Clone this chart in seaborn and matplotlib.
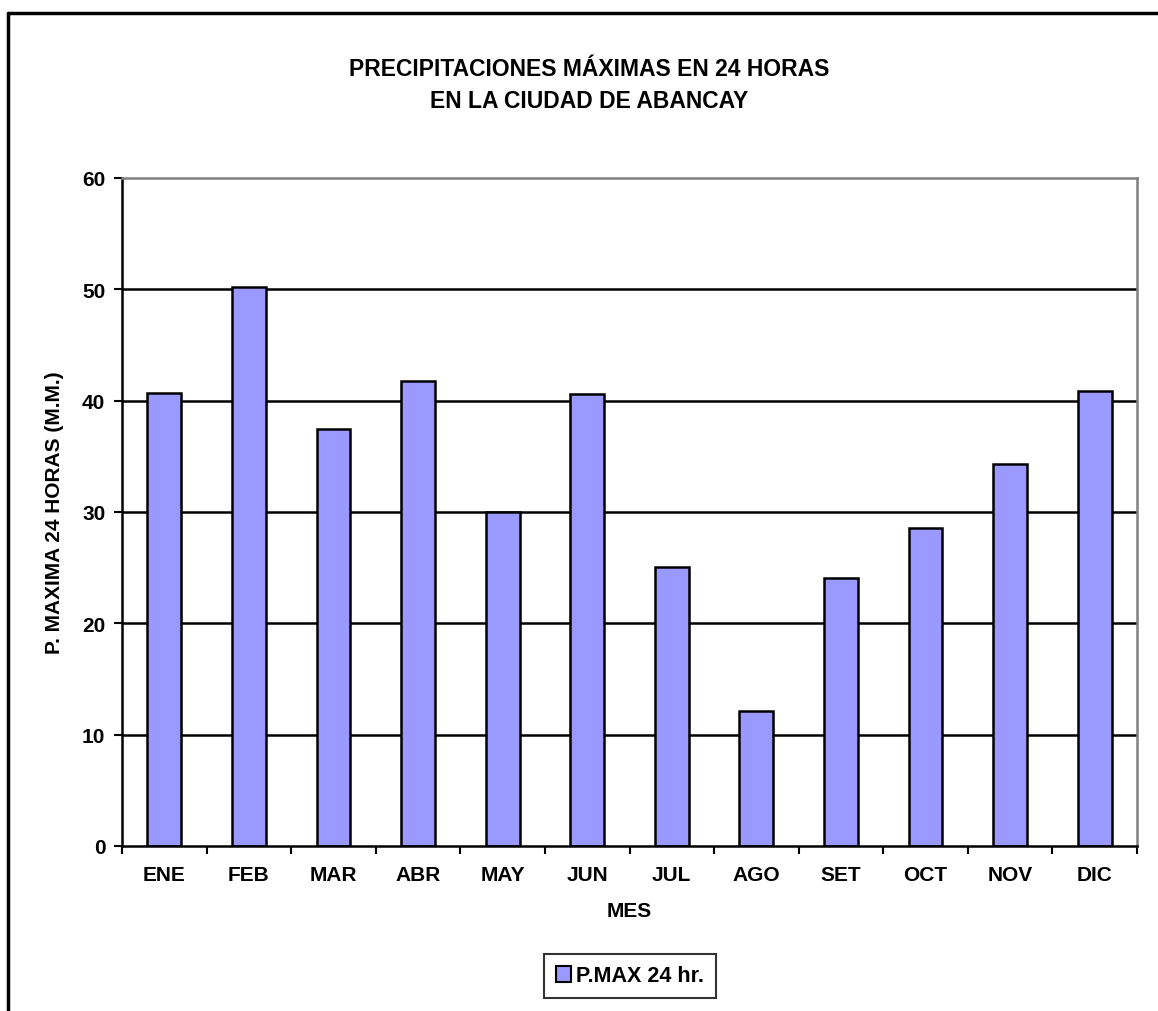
import numpy as np
import pandas as pd
import seaborn as sns
import matplotlib.pyplot as plt
from matplotlib.lines import Line2D
from matplotlib.patches import Patch

meses = ["ENE", "FEB", "MAR", "ABR", "MAY", "JUN", "JUL", "AGO", "SET", "OCT", "NOV", "DIC"]
pmax_24h = [40.7, 50.2, 37.5, 41.8, 30.0, 40.6, 25.1, 12.1, 24.1, 28.6, 34.3, 40.9]
y_ticks = [0, 10, 20, 30, 40, 50, 60]

sns.set_style("white")
plt.rcParams["font.family"] = ["Liberation Sans", "DejaVu Sans"]
plt.rcParams["font.weight"] = "bold"
for k in ["text.color", "axes.labelcolor", "xtick.color", "ytick.color"]:
    plt.rcParams[k] = "black"

df = pd.DataFrame({"mes": meses, "pmax": pmax_24h})

fig = plt.figure(figsize=(11.58, 10.12), dpi=100)
ax = fig.add_axes([122 / 1158, 165 / 1012, (1137 - 122) / 1158, (847 - 179) / 1012])

# gridlines first so bars sit on top
for v in y_ticks[1:-1]:
    ax.axhline(v, color="black", linewidth=1.8, zorder=0)

sns.barplot(data=df, x="mes", y="pmax", color="#9999FF", saturation=1,
            width=0.4, edgecolor="black", linewidth=1.8, ax=ax, zorder=2)

ax.set_xlim(-0.5, len(meses) - 0.5)
ax.set_ylim(0, 60)
ax.set_yticks(y_ticks)
ax.set_xticks(np.arange(-0.5, len(meses), 1), minor=True)
ax.tick_params(axis="x", which="major", length=0, pad=14, labelsize=15)
ax.tick_params(axis="x", which="minor", length=6, width=1.5, direction="out", bottom=True)
ax.tick_params(axis="y", length=6, width=1.5, direction="out", left=True, labelsize=15, pad=6)
for lab in ax.get_xticklabels() + ax.get_yticklabels():
    lab.set_fontweight("bold")

for side in ["left", "bottom"]:
    ax.spines[side].set_color("black")
    ax.spines[side].set_linewidth(1.8)
for side in ["top", "right"]:
    ax.spines[side].set_color("#808080")
    ax.spines[side].set_linewidth(1.8)

ax.set_xlabel("MES", fontsize=15, fontweight="bold", labelpad=12)
ax.set_ylabel("P. MAXIMA 24 HORAS (M.M.)", fontsize=15, fontweight="bold", labelpad=13)

fig.text(589 / 1158, 1 - 70 / 1012, "PRECIPITACIONES MÁXIMAS EN 24 HORAS",
         ha="center", va="center", fontsize=16.5, fontweight="bold")
fig.text(589 / 1158, 1 - 101 / 1012, "EN LA CIUDAD DE ABANCAY",
         ha="center", va="center", fontsize=16.5, fontweight="bold")

# outer chart frame (cut by the image on right and bottom)
fig.add_artist(Line2D([8 / 1158, 8 / 1158], [0, 1 - 14 / 1012], transform=fig.transFigure,
                      color="black", linewidth=2.5))
fig.add_artist(Line2D([8 / 1158, 1], [1 - 14 / 1012, 1 - 14 / 1012], transform=fig.transFigure,
                      color="black", linewidth=2.5))

handle = Patch(facecolor="#9999FF", edgecolor="black", linewidth=1.5)
leg = fig.legend([handle], ["P.MAX 24 hr."], loc="center", bbox_to_anchor=(630 / 1158, 1 - 977 / 1012),
                 fancybox=False, frameon=True, handlelength=0.7, handleheight=0.7,
                 handletextpad=0.2, borderpad=0.55, borderaxespad=0,
                 prop={"weight": "bold", "size": 15.5})
leg.get_frame().set_edgecolor("black")
leg.get_frame().set_linewidth(1.5)

fig.savefig("out.png", dpi=100)
